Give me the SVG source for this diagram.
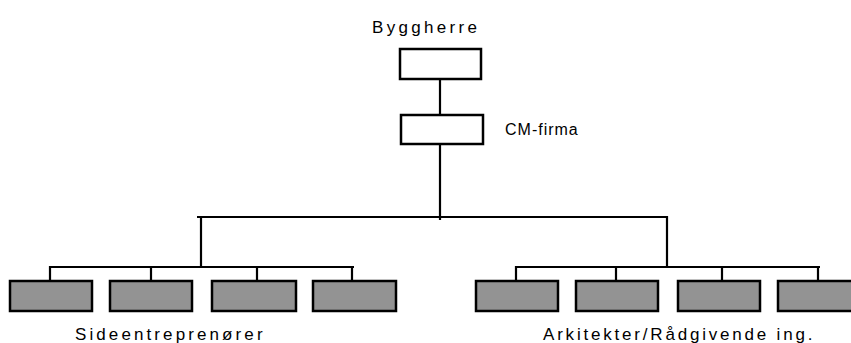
<svg xmlns="http://www.w3.org/2000/svg" width="851" height="343" viewBox="0 0 851 343">
  <style>
    .lbl { font-family: "Liberation Sans", Arial, sans-serif; font-size: 17px; letter-spacing: 3.2px; fill: #000; }
    .top { fill: #fff; stroke: #000; stroke-width: 2.5; }
    .sub { fill: #939393; stroke: #000; stroke-width: 2.5; }
    .wire { fill: none; stroke: #000; stroke-width: 2.2; }
  </style>
  <rect width="851" height="343" fill="#fff"/>

  <!-- connectors -->
  <g id="connectors" class="wire">
    <path d="M440 79 V115 M440 144 V220"/>
    <path d="M197 217 H667 M201 216 V268 M667 216 V268"/>
    <path d="M50 267 H354 M50 266 V281 M151 267 V281 M257 267 V281 M352 266 V281"/>
    <path d="M516 267 H820 M516 266 V281 M616 267 V281 M722 267 V281 M818 266 V281"/>
  </g>

  <g id="byggherre">
    <text class="lbl" x="372" y="33" style="letter-spacing:3.3px">Byggherre</text>
    <rect class="top" x="400" y="49" width="81" height="30"/>
  </g>

  <g id="cm-firma">
    <rect class="top" x="401" y="115" width="82" height="29"/>
    <text class="lbl" x="505" y="135" style="font-size:16px;letter-spacing:1px">CM-firma</text>
  </g>

  <g id="sideentreprenorer">
    <rect class="sub" x="10" y="281" width="82" height="30"/>
    <rect class="sub" x="110" y="281" width="82" height="30"/>
    <rect class="sub" x="212" y="281" width="84" height="30"/>
    <rect class="sub" x="313" y="281" width="83" height="30"/>
    <text class="lbl" x="75" y="340" style="letter-spacing:3.1px">Sideentreprenører</text>
  </g>

  <g id="arkitekter">
    <rect class="sub" x="476" y="281" width="82" height="30"/>
    <rect class="sub" x="576" y="281" width="82" height="30"/>
    <rect class="sub" x="678" y="281" width="82" height="30"/>
    <rect class="sub" x="778" y="281" width="90" height="30"/>
    <text class="lbl" x="543" y="340" style="letter-spacing:2.8px">Arkitekter/Rådgivende ing.</text>
  </g>
</svg>
